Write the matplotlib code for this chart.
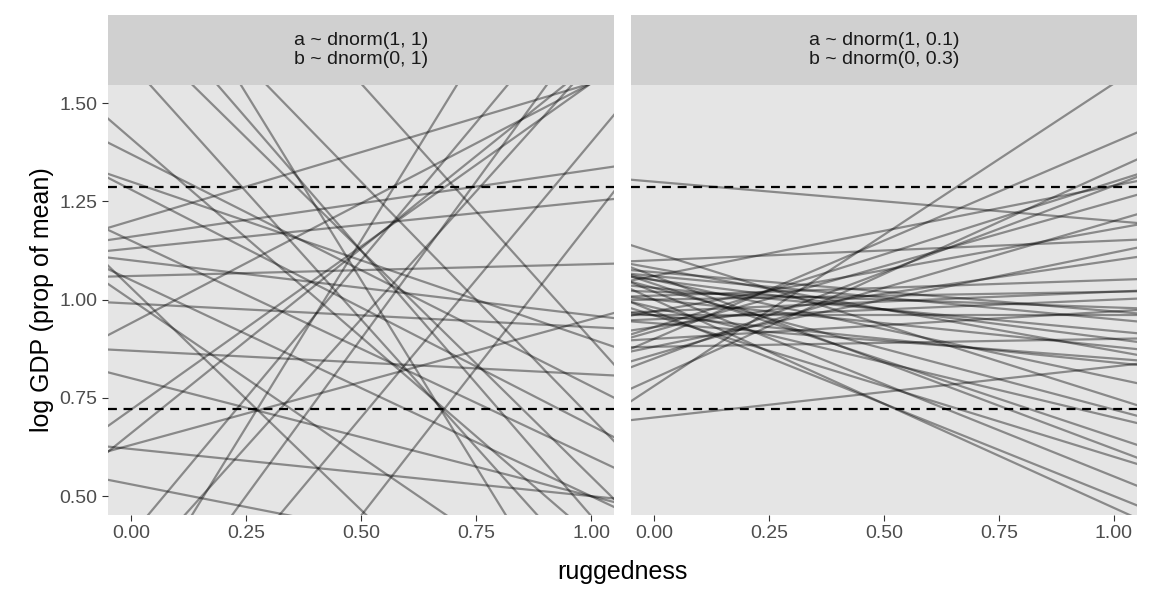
import matplotlib
matplotlib.use("Agg")
import matplotlib.pyplot as plt
import numpy as np
plt.rcParams['font.family'] = ['Liberation Sans', 'DejaVu Sans']

titles = ["a ~ dnorm(1, 1)\nb ~ dnorm(0, 1)", "a ~ dnorm(1, 0.1)\nb ~ dnorm(0, 0.3)"]
# each line: (y at ruggedness 0, y at ruggedness 1)
left_lines = [(1.41,0.40),(1.37,0.78),(1.16,1.33),(1.15,0.60),(1.13,1.25),(1.06,1.09),(0.99,0.93),
    (0.87,0.81),(0.72,1.55),(0.66,1.60),(0.63,0.95),(0.62,0.50),(0.53,0.30),(1.03,-0.1),(1.00,0.20),
    (1.60,0.30),(1.80,0.45),(2.00,0.10),(1.70,0.55),(0.30,1.60),(0.10,1.70),(0.20,2.10),(0.40,1.80),
    (1.20,1.55),(1.28,0.68),(0.94,1.55),(1.05,0.50),(1.90,0.70),(2.2,0.9),(0.0,1.4),(-0.3,1.2),
    (0.8,0.5),(1.3,0.9),(1.1,0.96)]
right_lines = [(0.70,0.83),(0.78,1.55),(0.80,1.33),(0.85,1.29),(0.86,1.20),(0.88,0.90),(0.90,1.40),
    (0.92,1.25),(0.93,1.10),(0.94,0.85),(0.95,1.00),(0.96,0.60),(0.97,1.18),(0.98,0.70),(1.00,0.47),
    (1.01,1.05),(1.02,0.55),(1.03,0.92),(1.04,0.65),(1.05,0.80),(1.06,1.29),(1.06,0.62),(1.08,0.87),
    (1.10,1.15),(1.12,0.75),(1.00,1.02),(1.06,0.95),(0.96,0.84),(1.07,0.97),(1.30,1.20),(1.05,0.90),
    (0.93,1.30),(0.96,0.96),(1.00,0.88),(0.90,0.97),(0.88,1.12),(1.03,0.72),(0.97,0.50),(1.02,0.98),
    (0.97,1.02)]
hlines = [1.287, 0.722]
xticks = [0.0, 0.25, 0.5, 0.75, 1.0]
yticks = [0.5, 0.75, 1.0, 1.25, 1.5]

fig = plt.figure(figsize=(11.52, 6), dpi=100)
lefts = [108/1152, 631/1152]
w = 506/1152
bot, h = 1-515/600, 430/600
sh = 70/600
for i, (lines, title) in enumerate(zip([left_lines, right_lines], titles)):
    ax = fig.add_axes([lefts[i], bot, w, h])
    ax.set_facecolor("#e5e5e5")
    xs = np.array([-0.05, 1.05])
    for y0, y1 in lines:
        ax.plot(xs, y0 + (y1 - y0) * xs, color="black", alpha=0.4, lw=1.6)
    for hv in hlines:
        ax.axhline(hv, color="black", ls=(0, (4, 3)), lw=1.6)
    ax.set_xlim(-0.05, 1.05)
    ax.set_ylim(0.452, 1.546)
    ax.set_xticks(xticks)
    ax.set_xticklabels(["0.00", "0.25", "0.50", "0.75", "1.00"])
    ax.set_yticks(yticks)
    for s in ax.spines.values():
        s.set_visible(False)
    ax.tick_params(colors="#4d4d4d", labelsize=14, length=4, color="#333333")
    if i == 0:
        ax.set_yticklabels(["0.50", "0.75", "1.00", "1.25", "1.50"])
        ax.set_ylabel("log GDP (prop of mean)", fontsize=18)
    else:
        ax.set_yticklabels([])
        ax.tick_params(axis="y", length=0)
    sax = fig.add_axes([lefts[i], bot + h, w, sh])
    sax.set_facecolor("#d0d0d0")
    sax.set_xticks([]); sax.set_yticks([])
    for s in sax.spines.values():
        s.set_visible(False)
    sax.text(0.5, 0.5, title, ha="center", va="center", fontsize=14, color="#1a1a1a",
             transform=sax.transAxes, linespacing=1.2)
fig.text((108 + 1137) / 2 / 1152, 0.035, "ruggedness", ha="center", fontsize=18)
fig.savefig("out.png", dpi=100)
